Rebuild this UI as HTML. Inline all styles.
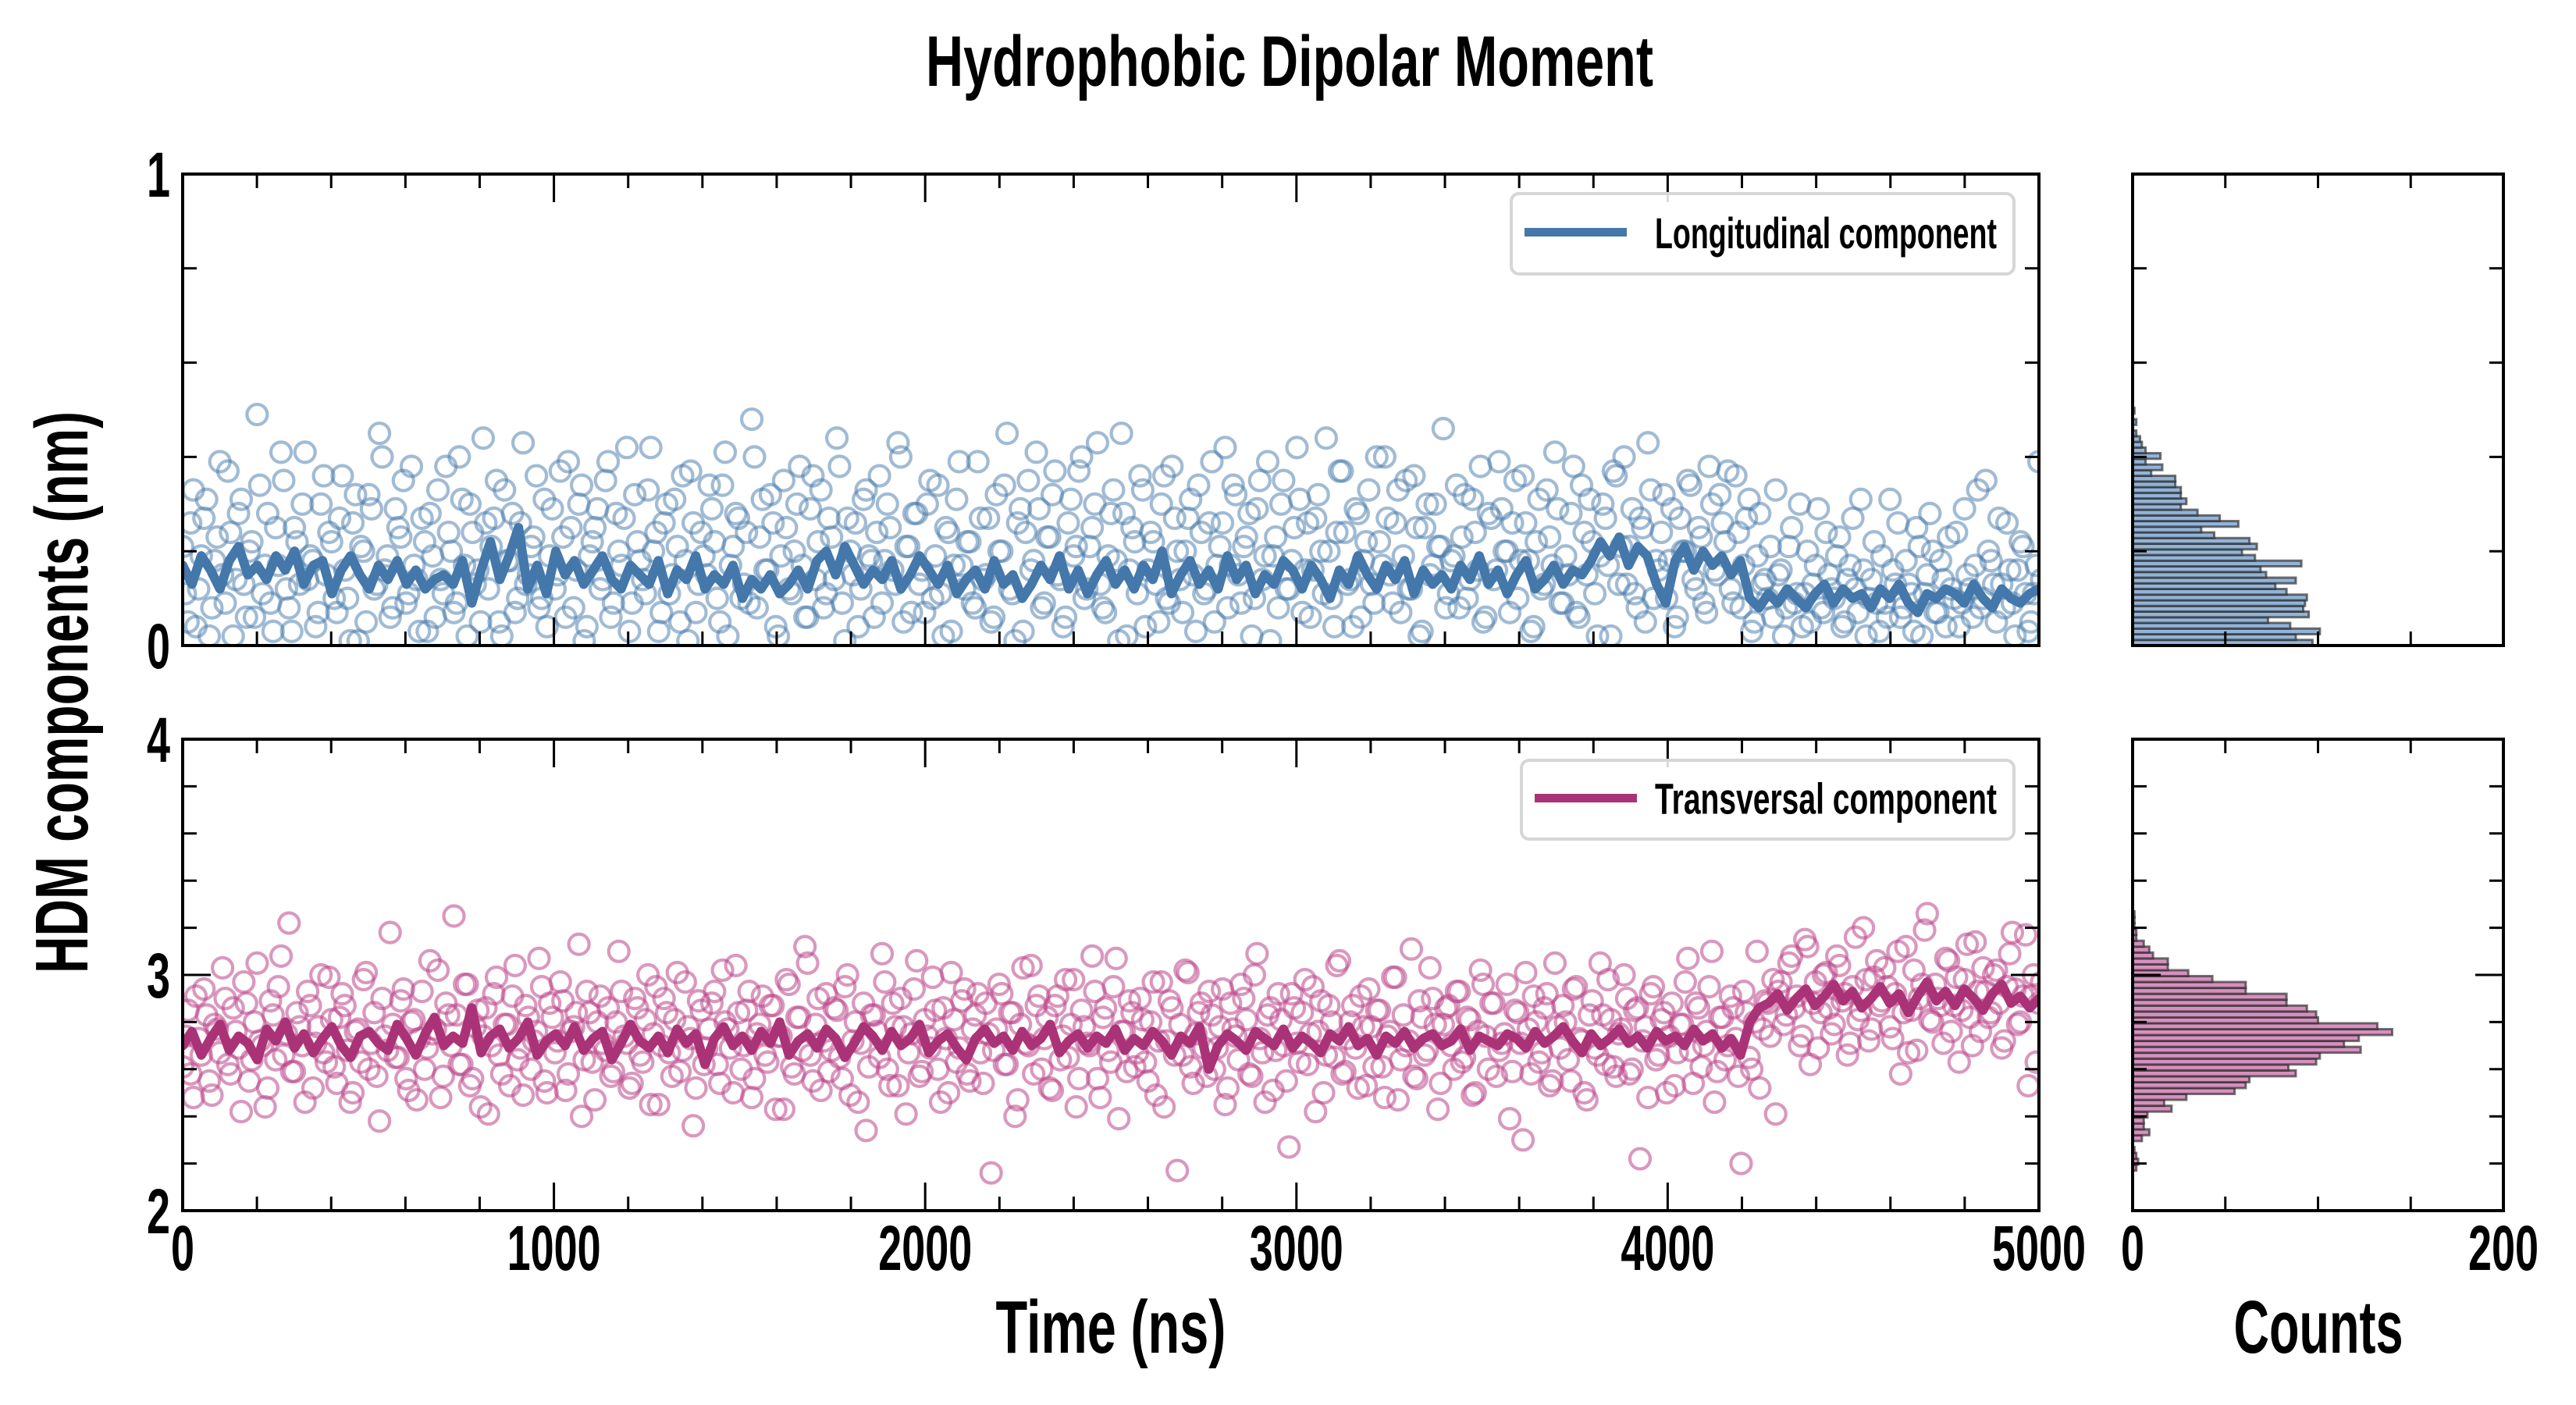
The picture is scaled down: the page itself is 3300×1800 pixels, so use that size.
<!DOCTYPE html>
<html><head><meta charset="utf-8"><style>
html,body{margin:0;padding:0;background:#fff;}
svg{display:block;}
text{font-family:"Liberation Sans Narrow","Liberation Sans",sans-serif;font-weight:bold;fill:#000;}
</style></head><body>
<svg id="chart" xmlns="http://www.w3.org/2000/svg" width="3300" height="1800" viewBox="0 0 3300 1800">
<text x="1652" y="110" font-size="92" text-anchor="middle" textLength="932" lengthAdjust="spacingAndGlyphs">Hydrophobic Dipolar Moment</text>
<text transform="translate(112,887) rotate(-90)" font-size="96" text-anchor="middle" textLength="720" lengthAdjust="spacingAndGlyphs">HDM components (nm)</text>
<text x="1423" y="1733" font-size="96" text-anchor="middle" textLength="295" lengthAdjust="spacingAndGlyphs">Time (ns)</text>
<text x="2970" y="1733" font-size="96" text-anchor="middle" textLength="217" lengthAdjust="spacingAndGlyphs">Counts</text>
<g id="layer"></g>
</svg>
<script>
const xTickLabels=["0","1000","2000","3000","4000","5000"];
const histTickLabels=["0","200"];
const topYLabels=["0","1"];
const botYLabels=["2","3","4"];
const longLine=[0.17,0.13,0.19,0.16,0.12,0.18,0.21,0.15,0.17,0.14,0.19,0.16,0.20,0.13,0.17,0.18,0.11,0.16,0.19,0.15,0.12,0.17,0.14,0.18,0.13,0.16,0.12,0.14,0.15,0.13,0.18,0.09,0.16,0.22,0.14,0.19,0.25,0.12,0.17,0.11,0.20,0.15,0.18,0.13,0.16,0.19,0.14,0.12,0.17,0.15,0.13,0.18,0.11,0.16,0.14,0.19,0.12,0.15,0.13,0.17,0.10,0.14,0.12,0.15,0.11,0.13,0.16,0.12,0.18,0.20,0.15,0.21,0.17,0.13,0.16,0.14,0.18,0.12,0.15,0.19,0.16,0.13,0.17,0.11,0.14,0.16,0.12,0.18,0.13,0.15,0.10,0.13,0.17,0.14,0.19,0.12,0.16,0.11,0.15,0.18,0.13,0.16,0.12,0.17,0.14,0.20,0.11,0.15,0.18,0.13,0.16,0.12,0.19,0.14,0.17,0.11,0.15,0.13,0.18,0.16,0.12,0.17,0.14,0.10,0.16,0.13,0.19,0.15,0.12,0.17,0.14,0.18,0.11,0.16,0.13,0.15,0.12,0.17,0.14,0.19,0.13,0.16,0.11,0.15,0.18,0.12,0.14,0.17,0.13,0.16,0.15,0.18,0.22,0.19,0.23,0.17,0.21,0.19,0.13,0.09,0.18,0.21,0.16,0.20,0.17,0.19,0.15,0.18,0.10,0.08,0.11,0.09,0.12,0.10,0.08,0.11,0.13,0.09,0.12,0.10,0.11,0.08,0.12,0.10,0.13,0.09,0.07,0.11,0.10,0.12,0.11,0.09,0.13,0.10,0.08,0.12,0.10,0.09,0.11,0.12];
const transLine=[2.70,2.76,2.66,2.73,2.79,2.68,2.74,2.71,2.64,2.77,2.72,2.80,2.69,2.75,2.67,2.73,2.78,2.70,2.65,2.74,2.76,2.71,2.68,2.79,2.73,2.66,2.75,2.82,2.70,2.74,2.71,2.86,2.67,2.74,2.77,2.69,2.73,2.80,2.66,2.72,2.75,2.70,2.78,2.68,2.73,2.76,2.64,2.71,2.79,2.72,2.69,2.74,2.67,2.77,2.71,2.75,2.62,2.73,2.78,2.70,2.74,2.68,2.76,2.71,2.80,2.66,2.72,2.75,2.69,2.77,2.73,2.65,2.71,2.78,2.74,2.68,2.76,2.70,2.73,2.79,2.67,2.72,2.75,2.69,2.64,2.73,2.77,2.71,2.74,2.68,2.76,2.70,2.73,2.79,2.67,2.72,2.75,2.69,2.74,2.71,2.77,2.68,2.73,2.70,2.76,2.72,2.66,2.74,2.71,2.78,2.60,2.70,2.75,2.72,2.68,2.76,2.73,2.70,2.77,2.69,2.74,2.71,2.67,2.75,2.72,2.78,2.70,2.73,2.66,2.74,2.71,2.76,2.69,2.73,2.75,2.70,2.72,2.77,2.68,2.74,2.72,2.70,2.75,2.73,2.69,2.76,2.71,2.74,2.78,2.72,2.67,2.75,2.70,2.73,2.77,2.71,2.74,2.69,2.76,2.72,2.74,2.70,2.77,2.72,2.75,2.69,2.73,2.66,2.80,2.86,2.88,2.92,2.85,2.90,2.94,2.87,2.91,2.96,2.89,2.93,2.86,2.90,2.95,2.88,2.92,2.84,2.91,2.97,2.89,2.93,2.87,2.94,2.90,2.85,2.92,2.96,2.88,2.91,2.86,2.90];
const longScatter=[.21,.05,.33,.12,.27,.02,.18,.39,.09,.24,.14,.31,.06,.22,.49,.11,.28,.03,.17,.35,.08,.25,.13,.41,.19,.04,.30,.15,.22,.07,.36,.10,.26,.01,.20,.32,.12,.45,.16,.06,.29,.23,.09,.38,.14,.27,.03,.19,.33,.11,.24,.07,.40,.17,.30,.13,.05,.26,.21,.35,.02,.18,.28,.10,.43,.15,.23,.08,.31,.19,.12,.37,.06,.25,.16,.34,.04,.22,.29,.14,.39,.09,.20,.27,.03,.32,.18,.11,.42,.24,.07,.30,.15,.21,.36,.01,.26,.13,.19,.34,.22,.05,.41,.17,.28,.10,.24,.48,.08,.31,.16,.26,.02,.35,.12,.20,.38,.06,.29,.14,.33,.11,.23,.44,.09,.27,.15,.04,.31,.19,.06,.36,.18,.25,.13,.40,.21,.07,.28,.16,.30,.10,.34,.02,.24,.17,.39,.12,.22,.08,.27,.15,.05,.32,.20,.45,.11,.26,.03,.35,.18,.29,.09,.23,.37,.14,.06,.31,.21,.40,.12,.25,.43,.08,.19,.33,.01,.28,.16,.22,.36,.04,.24,.13,.30,.10,.38,.20,.07,.27,.15,.34,.11,.26,.05,.21,.42,.17,.32,.09,.23,.02,.29,.14,.39,.19,.08,.35,.12,.25,.31,.16,.06,.27,.20,.44,.10,.24,.37,.13,.04,.28,.18,.33,.09,.22,.40,.15,.26,.07,.35,.12,.25,.03,.30,.17,.21,.46,.11,.19,.08,.32,.14,.24,.38,.06,.27,.16,.29,.20,.26,.10,.36,.18,.04,.31,.13,.23,.41,.09,.19,.28,.07,.34,.15,.22,.02,.30,.17,.37,.13,.40,.21,.11,.27,.05,.33,.18,.24,.10,.29,.06,.20,.35,.14,.25,.09,.38,.16,.32,.22,.12,.36,.08,.27,.03,.19,.13,.10,.06,.15,.02,.21,.09,.30,.11,.05,.17,.08,.24,.12,.19,.04,.14,.27,.07,.16,.10,.22,.03,.09,.31,.13,.06,.18,.11,.25,.02,.15,.20,.07,.14,.23,.10,.04,.29,.12,.17,.08,.35,.18,.05,.13,.26,.09,.16,.21,.03,.11,.39];
const longScatter2=[.11,.26,.04,.19,.31,.08,.23,.15,.37,.02,.28,.13,.20,.06,.34,.17,.09,.25,.41,.12,.03,.22,.30,.14,.18,.07,.36,.24,.10,.27,.16,.01,.32,.21,.05,.29,.13,.40,.19,.08,.25,.35,.11,.17,.03,.22,.28,.06,.14,.38,.20,.09,.31,.02,.24,.16,.44,.12,.27,.05,.33,.18,.07,.26,.13,.21,.36,.10,.04,.29,.15,.23,.39,.08,.30,.01,.19,.25,.12,.35,.06,.28,.17,.42,.09,.22,.14,.33,.20,.03,.26,.11,.31,.05,.18,.37,.07,.24,.15,.29,.10,.34,.02,.21,.27,.13,.09,.40,.23,.16,.32,.04,.19,.25,.11,.30,.17,.06,.36,.22,.08,.27,.14,.38,.01,.20,.26,.12,.33,.18,.24,.09,.30,.16,.43,.05,.21,.28,.13,.07,.35,.19,.11,.25,.03,.31,.17,.22,.09,.39,.14,.27,.06,.20,.34,.12,.01,.29,.24,.16,.41,.08,.23,.32,.15,.04,.26,.19,.37,.10,.21,.30,.13,.07,.28,.18,.45,.02,.25,.11,.33,.16,.22,.05,.36,.09,.27,.14,.20,.31,.03,.24,.12,.39,.17,.26,.08,.34,.15,.21,.28,.10,.35,.19,.01,.23,.30,.12,.18,.42,.07,.26,.16,.32,.11,.20,.04,.37,.24,.14,.29,.06,.22,.13,.40,.17,.27,.09,.33,.19,.12,.36,.02,.25,.15,.30,.21,.08,.18,.34,.23,.10,.31,.16,.05,.28,.14,.39,.20,.07,.35,.18,.26,.03,.22,.12,.33,.17,.29,.09,.15,.38,.06,.24,.31,.11,.19,.27,.02,.36,.21,.13,.29,.08,.25,.43,.10,.16,.32,.18,.04,.27,.20,.34,.12,.23,.07,.30,.15,.26,.37,.09,.24,.17,.31,.05,.28,.14,.21,.33,.16,.08,.25,.11,.04,.20,.13,.29,.07,.15,.10,.23,.05,.17,.12,.31,.02,.14,.09,.19,.06,.16,.26,.08,.13,.03,.21,.11,.28,.07,.18,.04,.12,.24,.09,.15,.06,.33,.10,.20,.13,.27,.08,.16,.02,.22,.11,.05,.17,.14];
const transScatter=[2.61,2.85,2.48,2.73,2.94,2.55,2.79,2.67,2.90,2.58,2.76,2.42,2.88,2.64,3.05,2.70,2.52,2.83,2.95,2.66,3.22,2.59,2.78,2.46,2.87,2.71,3.00,2.63,2.81,2.54,2.92,2.68,2.50,2.77,2.98,2.60,2.84,2.38,2.74,3.18,2.65,2.89,2.56,2.80,2.47,2.93,2.69,2.75,3.02,2.57,2.83,3.25,2.62,2.96,2.53,2.78,2.44,2.86,2.70,2.99,2.58,2.79,2.91,2.64,2.49,2.82,2.72,3.07,2.55,2.88,2.67,2.97,2.51,2.76,2.84,2.40,2.93,2.63,2.80,2.71,2.86,2.59,3.10,2.74,2.52,2.90,2.66,2.81,2.45,2.95,2.70,2.84,2.57,3.01,2.68,2.78,2.36,2.89,2.62,2.77,2.93,2.54,2.80,2.69,3.04,2.60,2.85,2.48,2.75,2.91,2.63,2.87,2.74,2.43,2.96,2.58,2.82,3.12,2.66,2.79,2.51,2.92,2.68,2.85,2.56,3.00,2.72,2.46,2.88,2.61,2.83,2.65,2.97,2.53,2.78,2.90,2.41,2.75,3.06,2.59,2.74,2.99,2.60,2.86,2.50,2.81,2.69,2.94,2.55,2.83,2.67,2.88,2.16,2.77,2.92,2.62,2.84,2.47,3.03,2.70,2.58,2.91,2.73,2.52,2.87,2.64,2.98,2.79,2.44,2.85,2.71,3.08,2.56,2.82,2.68,2.95,2.39,2.76,2.89,2.61,2.90,2.63,2.80,2.49,2.97,2.72,2.86,2.17,2.66,3.01,2.54,2.84,2.69,2.93,2.60,2.78,2.45,2.88,2.74,2.96,2.81,2.57,3.09,2.67,2.83,2.51,2.92,2.70,2.27,2.86,2.63,2.98,2.75,2.42,2.89,2.66,2.80,3.04,2.58,2.73,2.87,2.52,2.78,2.94,2.61,2.85,2.48,2.76,2.99,2.64,2.70,3.11,2.56,2.82,2.68,2.90,2.43,2.79,2.87,2.60,2.93,2.65,2.81,2.50,3.02,2.74,2.88,2.57,2.71,2.96,2.59,2.84,2.30,2.77,2.91,2.63,2.86,2.53,3.05,2.69,2.80,2.55,2.95,2.72,2.47,2.89,2.66,2.83,2.98,2.61,2.75,3.00,2.58,2.85,2.22,2.78,2.92,2.64,2.81,2.50,2.88,2.67,2.79,3.07,2.54,2.86,2.70,2.95,2.46,2.82,2.64,2.91,2.73,2.20,2.84,2.60,3.10,2.77,2.88,2.98,2.93,2.79,3.05,2.86,2.70,3.15,2.62,2.97,2.84,3.01,2.75,3.08,2.89,2.66,2.95,2.81,3.20,2.72,2.99,2.87,3.03,2.78,2.92,2.58,3.12,2.85,2.68,2.96,3.26,2.80,2.90,2.71,3.06,2.87,2.63,2.98,2.82,3.14,2.76,2.93,2.84,3.02,2.69,2.95,3.18,2.79,2.91,2.53,3.00,2.88];
const transScatter2=[2.74,2.58,2.91,2.66,2.83,2.49,2.77,3.03,2.62,2.86,2.69,2.97,2.55,2.80,2.72,2.44,2.89,2.64,3.08,2.75,2.59,2.84,2.70,2.93,2.52,2.78,2.67,2.99,2.61,2.82,2.87,2.46,2.76,2.63,3.01,2.71,2.57,2.90,2.68,2.79,2.65,2.94,2.51,2.81,2.73,2.60,3.06,2.77,2.48,2.88,2.70,2.83,2.62,2.96,2.56,2.85,2.74,2.41,2.92,2.66,2.79,2.53,3.04,2.69,2.87,2.60,2.76,2.95,2.50,2.82,2.72,2.89,2.58,2.78,3.13,2.64,2.84,2.47,2.91,2.68,2.57,2.80,2.93,2.71,2.54,2.86,2.63,3.00,2.75,2.45,2.90,2.67,2.81,2.59,2.97,2.73,2.52,2.85,2.69,2.88,2.62,3.02,2.77,2.50,2.84,2.70,2.93,2.56,2.79,2.66,2.87,2.43,2.74,2.98,2.61,2.82,2.68,3.05,2.55,2.90,2.72,2.59,2.86,2.65,2.95,2.49,2.80,2.71,2.34,2.83,2.76,3.09,2.60,2.88,2.53,2.78,2.67,2.94,2.57,2.81,2.69,2.85,2.46,2.73,3.01,2.63,2.89,2.58,2.77,2.92,2.54,2.75,2.68,2.96,2.62,2.84,2.40,2.79,2.71,3.04,2.87,2.60,2.82,2.51,2.91,2.74,2.65,2.98,2.56,2.78,2.70,2.93,2.48,2.86,2.63,3.07,2.76,2.59,2.84,2.67,2.81,2.55,2.97,2.72,2.44,2.89,2.66,2.79,3.02,2.61,2.75,2.88,2.57,2.83,2.69,2.94,2.52,2.77,2.64,2.90,2.58,3.00,2.73,2.46,2.86,2.68,2.81,2.55,2.92,2.71,2.84,2.62,2.95,2.76,2.50,2.87,2.65,3.06,2.59,2.80,2.69,2.91,2.53,2.78,2.85,2.61,2.74,2.99,2.47,2.83,2.72,2.57,2.89,2.66,3.03,2.79,2.54,2.86,2.70,2.93,2.63,2.82,2.49,2.76,2.96,2.60,2.88,2.68,2.75,2.39,2.85,2.71,3.01,2.58,2.80,2.67,2.92,2.55,2.78,2.87,2.64,2.94,2.73,2.50,2.83,2.69,3.05,2.62,2.81,2.57,2.77,2.90,2.60,2.86,2.72,2.48,2.95,2.66,2.84,2.74,2.53,2.79,2.97,2.68,2.88,2.61,2.76,3.10,2.59,2.82,2.70,2.86,2.57,2.93,2.65,2.80,2.52,2.89,2.74,2.41,2.97,2.83,3.08,2.91,2.74,3.12,2.88,2.69,3.00,2.86,2.79,3.04,2.92,2.71,3.16,2.85,2.98,2.77,3.06,2.89,2.95,2.73,3.10,2.84,2.67,3.02,2.90,3.19,2.81,2.96,2.87,3.07,2.76,2.99,2.85,3.13,2.70,2.93,3.03,2.82,3.00,2.88,2.72,3.09,2.94,2.80,3.17,2.91,2.63,2.97];
const longHistStart=0, longHistBin=0.012;
const longHistCounts=[97,88,101,85,73,95,92,93,94,83,77,88,72,69,91,66,59,67,63,44,37,57,47,35,26,29,26,26,23,23,10,16,7,15,7,5,4,2,0,2,0,1];
const transHistStart=2.17, transHistBin=0.025;
const transHistCounts=[2,3,2,1,0,5,9,6,6,8,21,17,29,55,61,63,88,84,99,101,123,114,122,140,132,100,99,94,83,83,61,61,43,30,19,19,11,9,6,2,2,1,1,1];
const timeMax=5000;

const NS='http://www.w3.org/2000/svg';
const layer=document.getElementById('layer');
function mk(tag,attrs,parent){const e=document.createElementNS(NS,tag);for(const k in attrs)e.setAttribute(k,attrs[k]);(parent||layer).appendChild(e);return e;}
const X0=234,X1=2612,HX0=2732,HX1=3207;
const panels=[{y0:223,y1:827,min:0,max:1},{y0:947,y1:1551,min:2,max:4}];
const xS=t=>X0+(t/timeMax)*(X1-X0);
const hS=c=>HX0+(c/200)*(HX1-HX0);
const yS=(p,v)=>p.y1-(v-p.min)/(p.max-p.min)*(p.y1-p.y0);

const defs=mk('defs',{});
panels.forEach((p,i)=>{const c=mk('clipPath',{id:'clip'+i},defs);mk('rect',{x:X0,y:p.y0,width:X1-X0,height:p.y1-p.y0},c);});
const gTop=mk('g',{'clip-path':'url(#clip0)'});


const gBot=mk('g',{'clip-path':'url(#clip1)'});



function scatterTo(g,p,vals,offset,color,name){
  const gg=mk('g',{fill:'none',stroke:color,'stroke-width':4.2},g);
  
  
  vals.forEach((v,i)=>{
    const c=mk('circle',{cx:xS((i+offset)*timeMax/(vals.length-1)),cy:yS(p,v),r:13},gg);
    
    
  });
}
function lineTo(g,p,vals,color,name){
  const d=vals.map((v,i)=>(i?'L':'M')+xS(i*timeMax/(vals.length-1)).toFixed(1)+','+yS(p,v).toFixed(1)).join('');
  const l=mk('path',{d:d,fill:'none',stroke:color,'stroke-width':12,'stroke-linejoin':'round','stroke-linecap':'round'},g);
  
  
}
scatterTo(gTop,panels[0],longScatter,0,'rgba(68,119,170,0.5)','longitudinal-scatter');
scatterTo(gTop,panels[0],longScatter2,0.5,'rgba(68,119,170,0.5)','longitudinal-scatter-b');
lineTo(gTop,panels[0],longLine,'#4477AA','longitudinal-line');
scatterTo(gBot,panels[1],transScatter,0,'rgba(187,68,136,0.55)','transversal-scatter');
scatterTo(gBot,panels[1],transScatter2,0.5,'rgba(187,68,136,0.55)','transversal-scatter-b');
lineTo(gBot,panels[1],transLine,'#AA3377','transversal-line');

function hist(p,start,bin,counts,fill,name){
  const g=mk('g',{});
  
  
  counts.forEach((c,i)=>{
    if(c<=0)return;
    const ya=yS(p,start+(i+1)*bin),yb=yS(p,start+i*bin);
    const r=mk('rect',{x:HX0,y:ya,width:hS(c)-HX0,height:yb-ya,fill:fill,stroke:'rgba(40,40,40,0.65)','stroke-width':3},g);
    
    
  });
}
hist(panels[0],longHistStart,longHistBin,longHistCounts,'#93b4d8','longitudinal-histogram');
hist(panels[1],transHistStart,transHistBin,transHistCounts,'#d690be','transversal-histogram');

function frame(x0,x1,p,name){
  const r=mk('rect',{x:x0,y:p.y0,width:x1-x0,height:p.y1-p.y0,fill:'none',stroke:'#000','stroke-width':4});
  
  
}
function yTicks(x0,x1,p){
  for(let v=p.min;v<=p.max+1e-9;v+=0.2){
    const y=yS(p,v);const major=Math.abs(v-Math.round(v))<1e-6;const L=major?36:18;
    const t1=mk('line',{x1:x0,x2:x0+L,y1:y,y2:y,stroke:'#000','stroke-width':3});
    
    
    const t2=mk('line',{x1:x1,x2:x1-L,y1:y,y2:y,stroke:'#000','stroke-width':3});
    
    
  }
}
panels.forEach((p,pi)=>{
  frame(X0,X1,p,pi?'bottom-plot-frame':'top-plot-frame');
  frame(HX0,HX1,p,pi?'bottom-hist-frame':'top-hist-frame');
  yTicks(X0,X1,p);yTicks(HX0,HX1,p);
  for(let t=0;t<=timeMax;t+=200){
    const x=xS(t);const L=(t%1000===0)?36:18;
    const a=mk('line',{x1:x,x2:x,y1:p.y1,y2:p.y1-L,stroke:'#000','stroke-width':3});
    
    
    const b=mk('line',{x1:x,x2:x,y1:p.y0,y2:p.y0+L,stroke:'#000','stroke-width':3});
    
    
  }
  for(let c=50;c<200;c+=50){
    const x=hS(c);
    const a=mk('line',{x1:x,x2:x,y1:p.y1,y2:p.y1-18,stroke:'#000','stroke-width':3});
    
    
    const b=mk('line',{x1:x,x2:x,y1:p.y0,y2:p.y0+18,stroke:'#000','stroke-width':3});
    
    
  }
});
function ylab(p,labels,name){
  labels.forEach((s,i)=>{
    const v=p.min+i*(p.max-p.min)/(labels.length-1);
    const t=mk('text',{x:218,y:yS(p,v)+29,'font-size':82,'text-anchor':'end',textLength:30*s.length,lengthAdjust:'spacingAndGlyphs'});
    t.textContent=s;
    
    
  });
}
ylab(panels[0],topYLabels,'top-y-tick-label');
ylab(panels[1],botYLabels,'bottom-y-tick-label');
xTickLabels.forEach((s,i)=>{
  const t=mk('text',{x:xS(i*timeMax/(xTickLabels.length-1)),y:1627,'font-size':82,'text-anchor':'middle',textLength:30*s.length,lengthAdjust:'spacingAndGlyphs'});
  t.textContent=s;
  
  
});
histTickLabels.forEach((s,i)=>{
  const t=mk('text',{x:hS(i*200),y:1627,'font-size':82,'text-anchor':'middle',textLength:30*s.length,lengthAdjust:'spacingAndGlyphs'});
  t.textContent=s;
  
  
});
function legend(bx,by,bw,bh,color,label,name){
  const g=mk('g',{});
  
  
  mk('rect',{x:bx,y:by,width:bw,height:bh,rx:10,fill:'rgba(255,255,255,0.85)',stroke:'#d6d6d6','stroke-width':4},g);
  mk('line',{x1:bx+17,x2:bx+148,y1:by+bh*0.48,y2:by+bh*0.48,stroke:color,'stroke-width':11},g);
  const t=mk('text',{x:bw+bx-22,y:by+bh*0.68,'font-size':56,'text-anchor':'end',textLength:438,lengthAdjust:'spacingAndGlyphs'},g);
  t.textContent=label;
}
legend(1936,248,644,103,'#4477AA','Longitudinal component','legend-longitudinal');
legend(1949,974,631,101,'#AA3377','Transversal component','legend-transversal');
</script>
</body></html>
